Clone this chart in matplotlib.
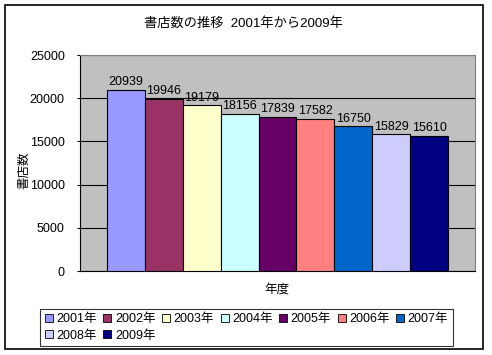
import matplotlib
matplotlib.use('Agg')
import matplotlib.pyplot as plt
import matplotlib.patches as mpatches
from matplotlib.lines import Line2D

plt.rcParams['font.family'] = ['Liberation Sans', 'Noto Sans CJK JP']

years = ['2001年', '2002年', '2003年', '2004年', '2005年', '2006年', '2007年', '2008年', '2009年']
stores = [20939, 19946, 19179, 18156, 17839, 17582, 16750, 15829, 15610]
colors = ['#9999FF', '#993366', '#FFFFCC', '#CCFFFF', '#660066', '#FF8080', '#0066CC', '#CCCCFF', '#000080']
yticks = [0, 5000, 10000, 15000, 20000, 25000]

fig = plt.figure(figsize=(4.92, 3.55), dpi=100)
W, H = 492, 355

# outer chart border
fig.patches.append(mpatches.Rectangle((5 / W, 6 / H), 478 / W, 344 / H, transform=fig.transFigure,
                                      fill=False, edgecolor='black', linewidth=1.2))

ax = fig.add_axes([80 / W, 84 / H, 395 / W, 216 / H])
ax.set_facecolor('#C0C0C0')

x = list(range(len(stores)))
bars = ax.bar(x, stores, width=1.0, color=colors, edgecolor='black', linewidth=0.8, zorder=3)
for xi, v in zip(x, stores):
    ax.text(xi, v + 200, str(v), ha='center', va='bottom', fontsize=9, zorder=4)

ax.set_xlim(-1.21, 9.21)
ax.set_ylim(0, 25000)
ax.set_yticks(yticks)
ax.set_xticks([])
ax.tick_params(axis='y', labelsize=9, length=2, direction='out', pad=9)
ax.grid(axis='y', color='black', linewidth=0.8, zorder=1)
for s in ['top', 'right']:
    ax.spines[s].set_color('#808080')
for s in ['left', 'bottom']:
    ax.spines[s].set_color('black')

fig.text(243 / W, 1 - 23 / H, '書店数の推移  2001年から2009年', ha='center', va='center', fontsize=9.5)
fig.text(24 / W, 1 - 170 / H, '書店数', ha='center', va='center', rotation=90, fontsize=9)
fig.text(277 / W, 1 - 290 / H, '年度', ha='center', va='center', fontsize=9)

handles = [Line2D([], [], marker='s', linestyle='none', markersize=6, markerfacecolor=c,
                  markeredgecolor='black', markeredgewidth=0.6) for c in colors]
order = [0, 7, 1, 8, 2, 3, 4, 5, 6]
leg = fig.legend([handles[i] for i in order], [years[i] for i in order], ncol=7,
                 loc='upper left', bbox_to_anchor=(40 / W, 1 - 309 / H),
                 fontsize=9, frameon=True, fancybox=False, handlelength=0.7,
                 handletextpad=0.25, columnspacing=0.5, borderpad=0.35, labelspacing=0.35,
                 borderaxespad=0)
leg.get_frame().set_edgecolor('black')
leg.get_frame().set_linewidth(0.8)

fig.savefig('out.png', dpi=100)
